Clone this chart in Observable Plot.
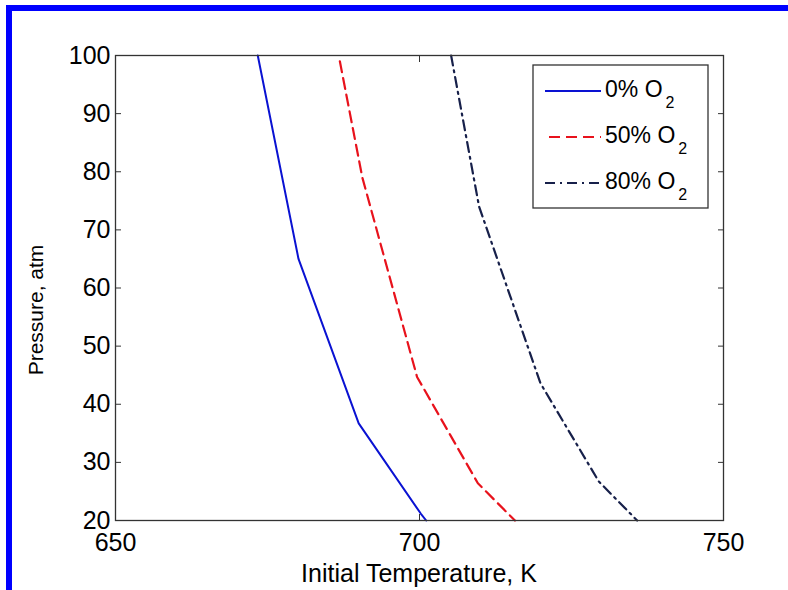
<!DOCTYPE html>
<html><head><meta charset="utf-8">
<script src="https://cdn.jsdelivr.net/npm/d3@7"></script>
<script src="https://cdn.jsdelivr.net/npm/@observablehq/plot@0.6"></script>
<style>
body{margin:0;background:#fff;}
#wrap{position:relative;width:788px;height:590px;overflow:hidden;background:#fff;font-family:"Liberation Sans",Arial,sans-serif;}
#wrap svg{position:absolute;left:0;top:0;}
#bt{position:absolute;left:6px;top:5px;width:782px;height:6px;background:#0000ff;}
#bl{position:absolute;left:6px;top:5px;width:6px;height:585px;background:#0000ff;}
</style></head><body><div id="wrap"></div>
<script>
// Data
const seriesNames = ["0% O", "50% O", "80% O"];
const seriesColors = ["#0a12d2", "#e8121c", "#17204a"];
const seriesDash = [null, "11,6", "10,5,2,5"];
const temp0 = [673.4, 680.1, 690.0, 700.2, 701.1];
const pres0 = [100, 65, 36.7, 21.2, 20];
const temp50 = [686.9, 690.6, 699.6, 709.6, 715.7];
const pres50 = [99, 79, 44.7, 26.4, 20];
const temp80 = [705.2, 709.8, 719.9, 729.5, 735.8];
const pres80 = [100, 74, 43.6, 26.7, 20];
const xTicks = [650, 700, 750];
const yTicks = [20, 30, 40, 50, 60, 70, 80, 90, 100];

const temps = [temp0, temp50, temp80];
const press = [pres0, pres50, pres80];
const rows = (i) => temps[i].map((t, k) => ({t, p: press[i][k], s: seriesNames[i]}));

const lines = seriesNames.map((_, i) => Plot.line(rows(i), {
  x: "t", y: "p", stroke: seriesColors[i], strokeWidth: i === 0 ? 2 : 2.2,
  strokeDasharray: seriesDash[i] || undefined, strokeLinejoin: "round"
}));

const chart = Plot.plot({
  width: 788, height: 590,
  marginLeft: 115, marginRight: 65, marginTop: 55, marginBottom: 70,
  style: {fontFamily: "'Liberation Sans', Arial, sans-serif", fontSize: "25px", background: "transparent", color: "#000", overflow: "visible"},
  x: {domain: [650, 750]},
  y: {domain: [20, 100]},
  marks: [
    ...lines,
    Plot.frame({stroke: "#333", strokeWidth: 1.3}),
    Plot.axisX({ticks: xTicks, tickSize: 0, tickPadding: 13, label: null, tickFormat: d => String(d)}),
    Plot.axisX({ticks: xTicks, tickSize: -6, tickFormat: () => "", label: null, stroke: "#333"}),
    Plot.axisX({anchor: "top", ticks: xTicks, tickSize: -6, tickFormat: () => "", label: null, stroke: "#333"}),
    Plot.axisY({ticks: yTicks, tickSize: 0, tickPadding: 5, label: null, tickFormat: d => String(d)}),
    Plot.axisY({ticks: yTicks, tickSize: -6, tickFormat: () => "", label: null, stroke: "#333"}),
    Plot.axisY({anchor: "right", ticks: yTicks, tickSize: -6, tickFormat: () => "", label: null, stroke: "#333"})
  ]
});

const wrap = document.getElementById("wrap");
wrap.appendChild(chart);
const svg = d3.select(chart);

// axis titles
svg.append("text").attr("x", 419).attr("y", 582).attr("text-anchor", "middle")
  .style("font-size", "25px").attr("fill", "#000").text("Initial Temperature, K");
svg.append("text").attr("transform", "translate(43,310) rotate(-90)").attr("text-anchor", "middle")
  .style("font-size", "21px").attr("fill", "#000").text("Pressure, atm");

// legend
const lg = svg.append("g");
lg.append("rect").attr("x", 533).attr("y", 65).attr("width", 175).attr("height", 143)
  .attr("fill", "#fff").attr("stroke", "#333").attr("stroke-width", 1.3);
const rowY = [91, 137, 183];
seriesNames.forEach((name, i) => {
  lg.append("line").attr("x1", i === 1 ? 549 : 545).attr("x2", 601).attr("y1", rowY[i]).attr("y2", rowY[i])
    .attr("stroke", seriesColors[i]).attr("stroke-width", 2)
    .attr("stroke-dasharray", seriesDash[i]);
  const t = lg.append("text").attr("x", 605).attr("y", rowY[i] + 6).attr("text-anchor", "start")
    .style("font-size", "23px").attr("fill", "#000");
  t.append("tspan").text(name);
  t.append("tspan").attr("dy", 11).attr("dx", 3).style("font-size", "16px").text("2");
});

// blue frame of the picture
const bt = document.createElement("div"); bt.id = "bt"; wrap.appendChild(bt);
const bl = document.createElement("div"); bl.id = "bl"; wrap.appendChild(bl);
</script>
</body></html>
